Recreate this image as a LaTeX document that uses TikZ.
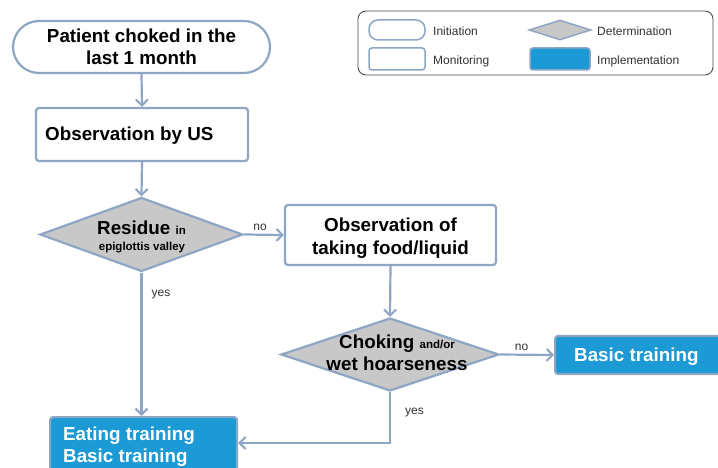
\documentclass[tikz,border=0pt]{standalone}
\usepackage{fontspec}
\setmainfont{Liberation Sans}
\usetikzlibrary{shapes.geometric,arrows.meta}
\definecolor{edge}{HTML}{8EA6C4}
\definecolor{dfill}{HTML}{C8C8C8}
\definecolor{impl}{HTML}{1B9AD6}
\tikzset{
  base/.style={draw=edge, line width=2.2pt, inner sep=0pt},
  initbox/.style={base, rounded corners=26pt, fill=white},
  monbox/.style={base, rounded corners=3pt, fill=white},
  implbox/.style={base, rounded corners=3pt, fill=impl},
  detbox/.style={base, diamond, fill=dfill},
  conn/.style={draw=edge, line width=2.2pt, -{Straight Barb[length=6pt,width=12pt,line width=2pt]}},
  big/.style={font=\fontsize{18.8}{22}\selectfont\bfseries, inner sep=0pt},
  small/.style={font=\fontsize{11.5}{13}\selectfont\bfseries, inner sep=0pt},
  lab/.style={font=\fontsize{12}{14}\selectfont, text=black!80, inner sep=0pt},
}
\begin{document}
\begin{tikzpicture}[x=1pt,y=-1pt]
\useasboundingbox[fill=white] (0,0) rectangle (718,468);
% legend
\node[draw=black!70, line width=0.9pt, rounded corners=8pt, minimum width=355, minimum height=64] (legend) at (535.5,43) {};
\node[initbox, rounded corners=9pt, line width=1.5pt, minimum width=56, minimum height=20] (li) at (397,30) {};
\node[lab, anchor=base west] (lit) at (433,36) {Initiation};
\node[monbox, line width=1.5pt, minimum width=56, minimum height=22] (lm) at (397,59) {};
\node[lab, anchor=base west] (lmt) at (433,65) {Monitoring};
\node[detbox, line width=1.5pt, minimum width=62, minimum height=20] (ld) at (560,30) {};
\node[lab, anchor=base west] (ldt) at (597,36) {Determination};
\node[implbox, line width=1.5pt, minimum width=60, minimum height=22] (lp) at (560,59) {};
\node[lab, anchor=base west] (lpt) at (597,65) {Implementation};
% start
\node[initbox, minimum width=257, minimum height=52] (start) at (141.5,47) {};
\node[big, anchor=base] (st1) at (141.5,43) {Patient choked in the};
\node[big, anchor=base] (st2) at (141.5,65) {last 1 month};
% observation by US
\node[monbox, minimum width=212, minimum height=53] (obs) at (142,134.5) {};
\node[big, anchor=base west] (obst) at (45,141) {Observation by US};
% decision 1
\node[detbox, minimum width=203, minimum height=74] (d1) at (141.5,234.5) {};
\node[anchor=base, inner sep=0pt] (d1a) at (141.5,234) {\fontsize{18.8}{22}\selectfont\bfseries Residue \fontsize{11.5}{13}\selectfont in};
\node[small, anchor=base] (d1b) at (142,250) {epiglottis valley};
% observation of taking
\node[monbox, minimum width=211, minimum height=60] (obs2) at (390.5,235) {};
\node[big, anchor=base] (o2a) at (390.5,232) {Observation of};
\node[big, anchor=base] (o2b) at (390.5,254) {taking food/liquid};
% decision 2
\node[detbox, minimum width=218, minimum height=73] (d2) at (390,354.5) {};
\node[anchor=base, inner sep=0pt] (d2a) at (397,348) {\fontsize{18.8}{22}\selectfont\bfseries Choking \fontsize{11.5}{13}\selectfont and/or};
\node[big, anchor=base] (d2b) at (397,370) {wet hoarseness};
% basic training
\node[implbox, minimum width=180, minimum height=38, anchor=west] (basic) at (554,355) {};
\node[big, text=white, anchor=base west] (basict) at (574,361) {Basic training};
% eating training
\node[implbox, minimum width=187, minimum height=70, anchor=north west] (eat) at (49,416) {};
\node[big, text=white, anchor=base west] (eat1) at (63,440) {Eating training};
\node[big, text=white, anchor=base west] (eat2) at (63,462) {Basic training};
% connectors
\draw[conn] (start.south) -- (obs.north);
\draw[conn] (obs.south) -- (d1.north);
\draw[conn] (d1.east) -- node[lab, above=3pt, pos=0.4] (no1) {no} (obs2.west);
\draw[conn] (obs2.south) -- (d2.north);
\draw[conn] (d2.east) -- node[lab, above=3pt, pos=0.4] (no2) {no} (basic.west);
\draw[conn] (d1.south) -- node[lab, right=9pt, pos=0.15] (yes1) {yes} (eat.north -| d1.south);
\coordinate (corner) at (390,443);
\draw[conn] (d2.south) -- node[lab, right=14pt, pos=0.4] (yes2) {yes} (corner) -- (corner -| eat.east);
\end{tikzpicture}
\end{document}
